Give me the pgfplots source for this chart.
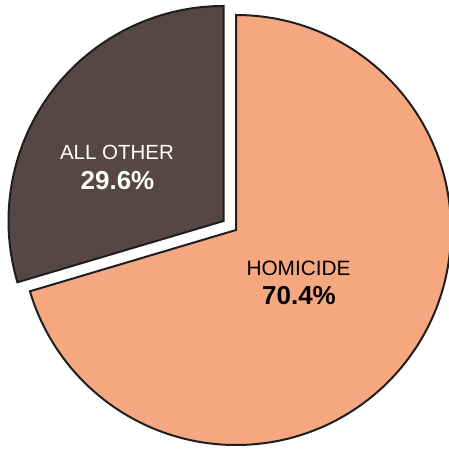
\documentclass[border=0pt]{standalone}
\usepackage{pgfplots}
\pgfplotsset{compat=1.18}
\usepackage{fontspec}
\setmainfont{Liberation Sans}

\definecolor{homicide}{HTML}{F5A880}
\definecolor{allother}{HTML}{574646}
\definecolor{edge}{HTML}{1E1E1E}

% shares in percent
\def\homicide{70.4}
\def\allother{29.6}

\begin{document}
\begin{tikzpicture}
\pgfmathsetmacro{\homend}{90-3.6*\homicide}
\pgfmathsetmacro{\othend}{90+3.6*\allother}
\begin{axis}[
    name=pie,
    x=1pt, y=1pt,
    xmin=0, xmax=449,
    ymin=0, ymax=448,
    hide axis,
    clip=true,
]
% homicide slice, clockwise from the top
\filldraw[fill=homicide, draw=edge, line width=2pt, line join=miter]
    (axis cs:236,218) -- ++(90:215pt)
    arc[start angle=90, end angle=\homend, radius=215pt] -- cycle;
% all other slice, pulled out
\filldraw[fill=allother, draw=edge, line width=2pt, line join=miter]
    (axis cs:223.5,227) -- ++(90:215pt)
    arc[start angle=90, end angle=\othend, radius=215pt] -- cycle;
\node[white, font=\fontsize{20.5}{22}\selectfont, inner sep=0pt]
    at (axis cs:117,295.5) {ALL OTHER};
\node[white, font=\fontsize{26}{28}\selectfont\bfseries, inner sep=0pt]
    at (axis cs:117.5,267) {29.6\%};
\node[black, font=\fontsize{20.8}{22}\selectfont, inner sep=0pt]
    at (axis cs:298.5,180) {HOMICIDE};
\node[black, font=\fontsize{26}{28}\selectfont\bfseries, inner sep=0pt]
    at (axis cs:299,152) {70.4\%};
\end{axis}
\pgfresetboundingbox
\path[use as bounding box] (pie.south west) rectangle (pie.north east);
\end{tikzpicture}
\end{document}
